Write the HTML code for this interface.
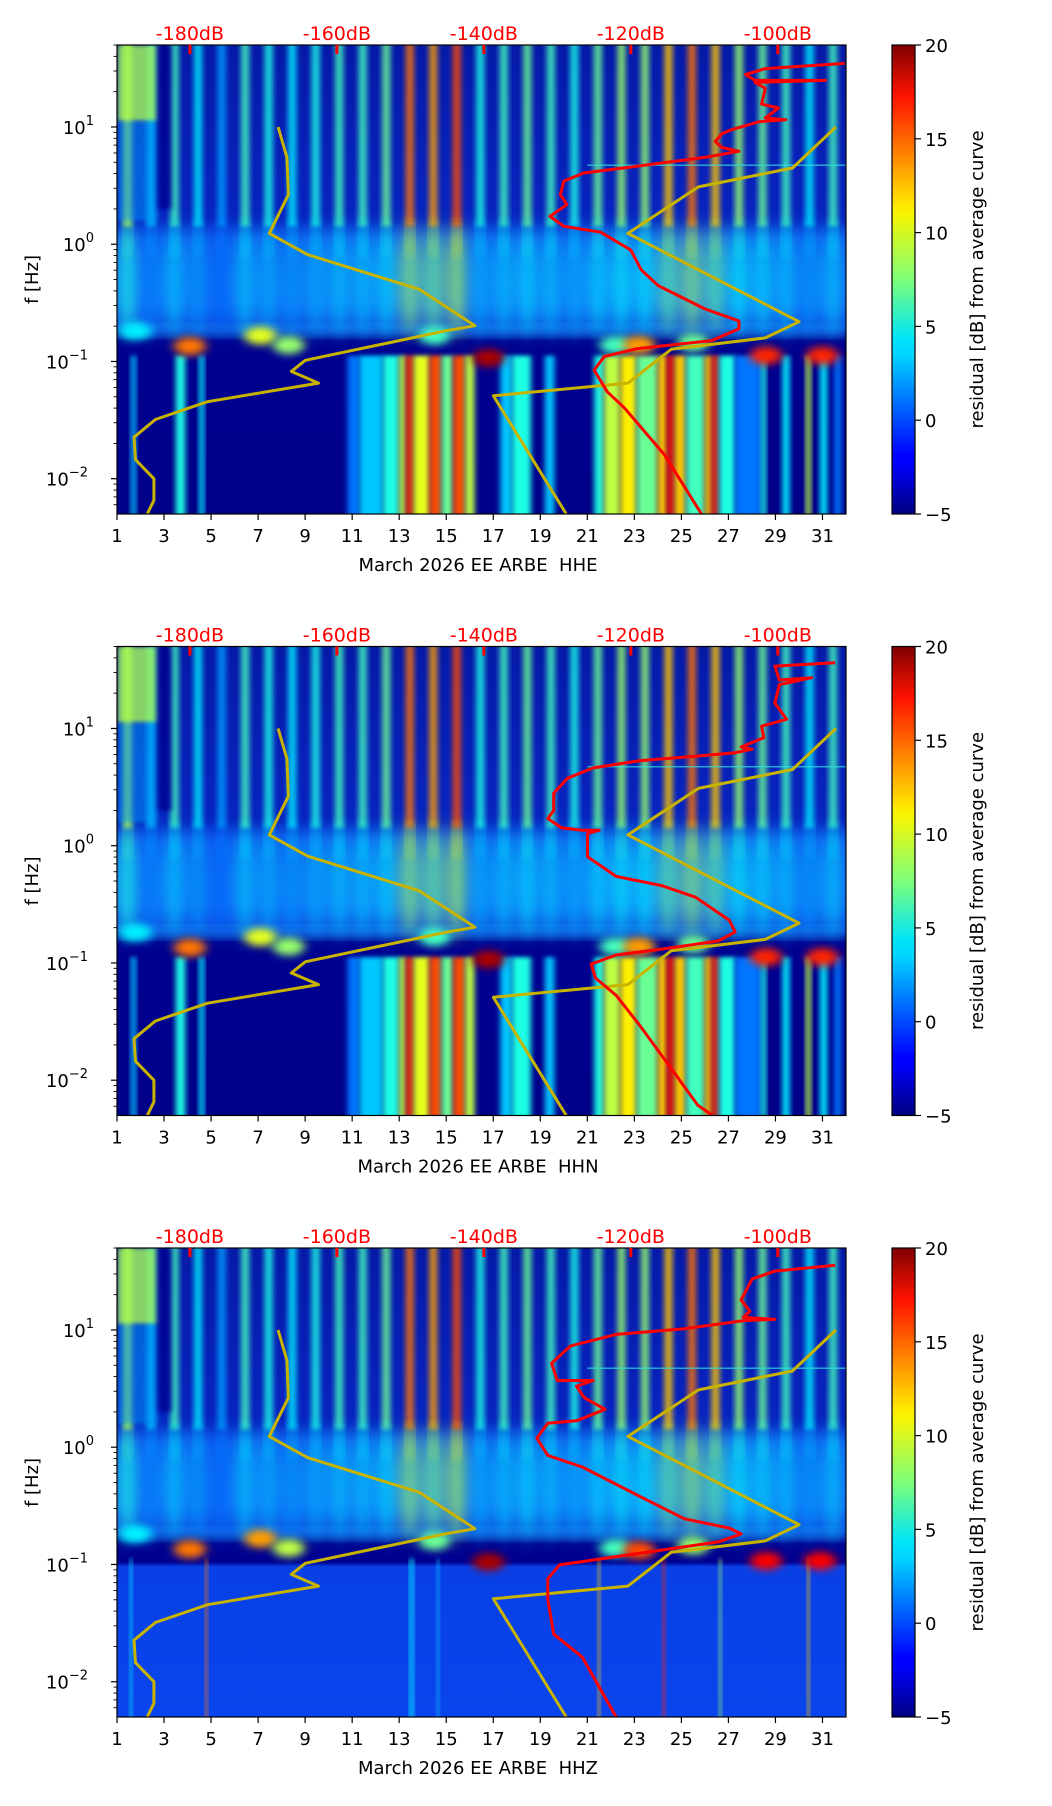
<!DOCTYPE html>
<html><head><meta charset="utf-8">
<style>
html,body{margin:0;padding:0;background:#fff;}
svg{display:block;font-family:"DejaVu Sans","Liberation Sans",sans-serif;}
text{white-space:pre;}
</style></head>
<body>
<svg id="fig" width="1052" height="1806" viewBox="0 0 1052 1806" xmlns="http://www.w3.org/2000/svg">
<defs>
<filter id="blurS" x="-50%" y="-10%" width="200%" height="120%"><feGaussianBlur stdDeviation="3 2"/></filter>
<filter id="blurT" x="-50%" y="-10%" width="200%" height="120%"><feGaussianBlur stdDeviation="6 6"/></filter>
<filter id="blurB" x="-50%" y="-50%" width="200%" height="200%"><feGaussianBlur stdDeviation="5 4"/></filter>
<filter id="blurP" x="-50%" y="-50%" width="200%" height="200%"><feGaussianBlur stdDeviation="7 10"/></filter>
<linearGradient id="jetGrad" x1="0" y1="1" x2="0" y2="0">
<stop offset="0" stop-color="#000080"/><stop offset="0.11" stop-color="#0000ff"/>
<stop offset="0.125" stop-color="#0000ff"/><stop offset="0.34" stop-color="#00d4ff"/>
<stop offset="0.375" stop-color="#00e5f7"/><stop offset="0.5" stop-color="#7dff7a"/>
<stop offset="0.64" stop-color="#f8f500"/><stop offset="0.66" stop-color="#ffe600"/>
<stop offset="0.89" stop-color="#ff1300"/><stop offset="1" stop-color="#800000"/>
</linearGradient>
</defs>
</svg>
<script>
// ---- data ----
const dbTicks = [-180, -160, -140, -120, -100];
const dayTicks = [1,3,5,7,9,11,13,15,17,19,21,23,25,27,29,31];
const decadeTicks = [1, 0, -1, -2];
const cbarTicks = [20, 15, 10, 5, 0, -5];
const panelNames = ["HHE", "HHN", "HHZ"];
// noise model curves (dB, log10 f)
const nlnmDb = [-168.0,-166.8,-166.6,-169.2,-164.0,-148.8,-141.2,-145.1,-164.3,-166.2,-162.5,-177.6,-184.7,-187.6,-187.4,-184.9,-184.9,-185.8];
const nlnmLogF = [1.00,0.741,0.422,0.092,-0.089,-0.385,-0.695,-0.738,-0.990,-1.085,-1.185,-1.343,-1.495,-1.646,-1.838,-2.00,-2.184,-2.30];
const nhnmDb = [-92.1,-98.0,-110.8,-120.4,-97.1,-101.7,-114.5,-120.4,-138.7,-128.8];
const nhnmLogF = [1.00,0.650,0.489,0.092,-0.661,-0.799,-0.896,-1.185,-1.293,-2.30];
// average curves per channel
const redDb1 = [-90.9,-101.7,-104.4,-103.1,-93.5,-103.1,-101.7,-102.2,-99.9,-101.7,-98.9,-102.6,-106.3,-107.6,-108.5,-107.6,-105.3,-109.9,-118.1,-126.4,-129.1,-129.6,-128.7,-131.0,-129.1,-124.1,-120.0,-118.6,-116.3,-109.9,-105.3,-105.3,-109.0,-119.1,-123.6,-125.0,-123.2,-120.9,-115.4,-110.4];
const redLogF1 = [1.542,1.498,1.447,1.397,1.397,1.380,1.330,1.195,1.162,1.077,1.061,1.044,0.977,0.943,0.876,0.825,0.792,0.741,0.674,0.607,0.539,0.422,0.338,0.237,0.153,0.102,-0.049,-0.217,-0.352,-0.553,-0.654,-0.721,-0.822,-0.89,-0.957,-1.074,-1.259,-1.394,-1.797,-2.30];
const redDb2 = [-92.2,-100.4,-99.8,-95.4,-99.8,-100.4,-98.8,-102.2,-101.9,-105.0,-103.5,-105.8,-111.2,-118.9,-125.1,-128.6,-130.5,-130.5,-131.3,-129.4,-126.6,-124.3,-125.9,-125.9,-122.0,-115.8,-111.2,-106.6,-105.8,-108.1,-115.8,-122.0,-125.4,-124.8,-122.0,-118.9,-114.3,-110.9,-108.9];
const redLogF2 = [1.561,1.532,1.413,1.433,1.374,1.216,1.078,1.019,0.921,0.842,0.822,0.793,0.763,0.724,0.664,0.576,0.448,0.300,0.231,0.152,0.132,0.132,0.103,-0.094,-0.262,-0.340,-0.439,-0.636,-0.735,-0.813,-0.882,-0.932,-1.010,-1.129,-1.276,-1.523,-1.917,-2.212,-2.30];
const redDb3 = [-92.2,-100.4,-103.5,-105.0,-103.8,-104.7,-100.4,-104.6,-112.7,-122.0,-128.2,-130.8,-130.0,-125.1,-127.4,-126.3,-123.5,-127.4,-131.3,-132.8,-131.3,-126.6,-118.9,-112.7,-106.6,-105.0,-108.1,-118.9,-129.7,-131.3,-131.3,-130.5,-126.6,-122.0];
const redLogF3 = [1.552,1.502,1.434,1.257,1.158,1.109,1.090,1.080,1.011,0.962,0.864,0.716,0.569,0.569,0.520,0.421,0.323,0.225,0.205,0.077,-0.070,-0.169,-0.415,-0.611,-0.690,-0.739,-0.808,-0.906,-1.004,-1.122,-1.299,-1.594,-1.791,-2.30];
// spectrogram residuals: upper daily stripe intensity (day 1..31)
const stripeVals = [9,3,6,4,2,6,5,4,5,6,6,7,14,13,15,5,6,7,6,5,7,8,8,12,14,12,8,7,6,4,6];
// microseism blobs [day, log10 f, residual]
const blobs12 = [[4.1,-0.87,14],[7.1,-0.78,10],[8.3,-0.86,8],[14.5,-0.78,6],[16.8,-0.97,19],[22.2,-0.86,6],[23.2,-0.86,13],[25.5,-0.84,7],[28.6,-0.95,16],[31.0,-0.95,16],[1.8,-0.74,4]];
const blobs3 = [[4.1,-0.87,14],[7.1,-0.78,13],[8.3,-0.86,9],[14.5,-0.80,7],[16.8,-0.98,19],[22.2,-0.86,6],[23.2,-0.88,15],[25.5,-0.84,8],[28.6,-0.97,17],[30.9,-0.97,17],[1.8,-0.74,4]];
// low-frequency bands [day0, day1, residual]
const bands12 = [[1.6,1.8,3],[3.5,3.9,5],[4.5,4.7,4],[10.8,11.3,1],[11.3,12.3,3],[12.3,13.0,5],[13.0,13.3,9],[13.3,13.6,16],[13.6,14.3,10],[14.3,14.8,15],[14.8,15.3,7],[15.3,15.8,15],[15.8,16.2,9],[17.3,17.8,3],[17.8,18.6,5],[19.2,19.6,3],[21.3,21.7,5],[21.7,22.4,9],[22.4,23.1,11],[23.1,24.0,7],[24.0,24.4,12],[24.4,24.7,17],[24.7,25.2,12],[25.2,26.0,6],[26.0,26.3,12],[26.3,26.6,16],[26.6,27.3,5],[27.3,28.4,1],[28.4,28.6,5],[29.3,29.6,4],[30.3,30.5,9],[30.9,31.2,4],[31.5,31.8,1]];
const bands3 = [[1.55,1.65,4],[4.75,4.85,14],[13.45,13.6,4],[14.6,14.7,3],[21.45,21.55,12],[24.2,24.3,16],[26.6,26.7,8],[30.35,30.45,12]];

// ---- layout ----
const NS = "http://www.w3.org/2000/svg";
const svg = document.getElementById("fig");
const defs = svg.querySelector("defs");
const L = 117, R = 846, H = 469, TOPS = [45, 646.5, 1248];
const LOGMAX = 1.699, LOGMIN = -2.301;
const X = d => L + (d - 1) * (R - L) / 31;
const XdB = db => X(4.1 + (db + 180) / 3.2);
function jet(v){
  const t = Math.max(0, Math.min(1, (v + 5) / 25));
  const c = x => Math.round(255 * Math.max(0, Math.min(1, x)));
  return `rgb(${c(1.5-Math.abs(4*t-3))},${c(1.5-Math.abs(4*t-2))},${c(1.5-Math.abs(4*t-1))})`;
}
function el(tag, attrs, parent){
  const e = document.createElementNS(NS, tag);
  for (const k in attrs) e.setAttribute(k, attrs[k]);
  (parent || svg).appendChild(e);
  return e;
}
const off = lf => ((LOGMAX - lf) / (LOGMAX - LOGMIN)).toFixed(4);

TOPS.forEach((top, pi) => {
  const Y = lf => top + (LOGMAX - lf) * H / (LOGMAX - LOGMIN);
  const bg = el("linearGradient", {id: "bg" + pi, x1: 0, y1: 0, x2: 0, y2: 1}, defs);
  const stops = [[1.7,"#061aa8"],[0.2,"#0824c0"],[0.05,"#1248e6"],[-0.5,"#1654f0"],[-0.72,"#0c3cd8"],[-0.8,"#000090"],[-2.3, pi === 2 ? "#000090" : "#000088"]];
  if (pi === 2) { stops.splice(6, 1, [-0.98,"#000090"],[-1.02,"#0840e6"],[-2.3,"#0a44ec"]); }
  stops.forEach(s => el("stop", {offset: off(s[0]), "stop-color": s[1]}, bg));

  const g = el("g", {});
  
  
  const cp = el("clipPath", {id: "clip" + pi}, g);
  el("rect", {x: L, y: top, width: R - L, height: H}, cp);
  const sg = el("g", {"clip-path": `url(#clip${pi})`}, g);
  
  
  el("rect", {x: L, y: top, width: R - L, height: H, fill: `url(#bg${pi})`}, sg);
  el("rect", {x: L, y: Y(-0.68), width: R - L, height: Y(-0.8) - Y(-0.68), fill: "#1f8cf0", opacity: 0.5, filter: "url(#blurT)"}, sg);
  stripeVals.forEach((v, i) => {
    const d = i + 1.45;
    const p = el("ellipse", {cx: X(d), cy: Y(-0.3), rx: 11, ry: 55, fill: jet(v * 0.55), opacity: 0.7, filter: "url(#blurP)"}, sg);
    
    
  });
  stripeVals.forEach((v, i) => {
    const d = i + 1.45;
    const s = el("rect", {x: X(d) - 4, y: top - 5, width: 8, height: Y(0.15) - top + 5, fill: jet(v), opacity: 0.85, filter: "url(#blurS)"}, sg);
    
    
    const s2 = el("rect", {x: X(d) - 3, y: Y(0.2), width: 6, height: Y(-0.1) - Y(0.2), fill: jet(v * 0.7), opacity: 0.6, filter: "url(#blurT)"}, sg);
    
    
  });
  el("rect", {x: X(1), y: top, width: X(2.7) - X(1), height: Y(1.05) - top, fill: jet(8.5), opacity: 0.8, filter: "url(#blurS)"}, sg);
  el("rect", {x: X(1), y: Y(1.05), width: X(2.7) - X(1), height: Y(0.2) - Y(1.05), fill: jet(2), opacity: 0.5, filter: "url(#blurS)"}, sg);
  el("rect", {x: X(2.75), y: top, width: X(3.3) - X(2.75), height: Y(0.3) - top, fill: "#000090", opacity: 0.8, filter: "url(#blurS)"}, sg);
  (pi === 2 ? bands3 : bands12).forEach(b => {
    const r = el("rect", {x: X(b[0]), y: Y(-0.95), width: X(b[1]) - X(b[0]), height: top + H - Y(-0.95) + 5, fill: jet(b[2]), filter: "url(#blurS)"}, sg);
    
    
  });
  (pi === 2 ? blobs3 : blobs12).forEach(b => {
    const r = el("ellipse", {cx: X(b[0]), cy: Y(b[1]), rx: 16, ry: 9, fill: jet(b[2]), filter: "url(#blurB)"}, sg);
    
    
  });
  el("rect", {x: X(21), y: Y(0.68), width: R - X(21), height: 1.5, fill: "#30e0e0", opacity: 0.7}, sg);
  const poly = (dbs, lfs, color, w, name) => {
    const pts = dbs.map((db, i) => `${XdB(db).toFixed(1)},${Y(lfs[i]).toFixed(1)}`).join(" ");
    const p = el("polyline", {points: pts, fill: "none", stroke: color, "stroke-width": w, "stroke-linejoin": "round"}, sg);
    
    
  };
  poly(nlnmDb, nlnmLogF, "#c8b400", 3, "low-noise-model-curve");
  poly(nhnmDb, nhnmLogF, "#c8b400", 3, "high-noise-model-curve");
  const rd = [redDb1, redDb2, redDb3][pi], rl = [redLogF1, redLogF2, redLogF3][pi];
  poly(rd, rl, "#ff0000", 3, "average-psd-curve");
  const fr = el("rect", {x: L, y: top, width: R - L, height: H, fill: "none", stroke: "#000", "stroke-width": 1.2}, g);
  
  
  dbTicks.forEach(db => {
    el("rect", {x: XdB(db) - 1.5, y: top, width: 3, height: 9, fill: "#ff0000"}, g);
    const t = el("text", {x: XdB(db), y: top - 5, "text-anchor": "middle", "font-size": 19, fill: "#ff0000"}, g);
    t.textContent = db + "dB";
    
    
  });
  dayTicks.forEach(d => {
    el("line", {x1: X(d), x2: X(d), y1: top + H, y2: top + H + 6, stroke: "#000", "stroke-width": 1.2}, g);
    const t = el("text", {x: X(d), y: top + H + 28, "text-anchor": "middle", "font-size": 18, fill: "#000"}, g);
    t.textContent = d;
    
    
  });
  const xl = el("text", {x: 478, y: top + H + 57, "text-anchor": "middle", "font-size": 18, fill: "#000"}, g);
  xl.textContent = "March 2026 EE ARBE \u00a0" + panelNames[pi];
  
  
  for (let e = -3; e <= 1; e++) {
    for (let m = 1; m <= 9; m++) {
      const lf = e + Math.log10(m);
      if (lf < LOGMIN || lf > LOGMAX) continue;
      const len = m === 1 ? 6 : 3.5;
      el("line", {x1: L - len, x2: L, y1: Y(lf), y2: Y(lf), stroke: "#000", "stroke-width": m === 1 ? 1.2 : 0.9}, g);
    }
  }
  decadeTicks.forEach(e => {
    const t = el("text", {x: e < 0 ? 88 : 94, y: Y(e) + 7, "text-anchor": "end", "font-size": 18, fill: "#000"}, g);
    t.textContent = "10";
    const s = el("tspan", {dy: -9, "font-size": 13}, t);
    s.textContent = e < 0 ? "\u2212" + (-e) : String(e);
    
    
  });
  const yl = el("text", {x: 0, y: 0, "text-anchor": "middle", "font-size": 18, fill: "#000", transform: `translate(38,${top + H / 2}) rotate(-90)`}, g);
  yl.textContent = "f [Hz]";
  
  
  const cb = el("rect", {x: 892, y: top, width: 23, height: H, fill: "url(#jetGrad)", stroke: "#000", "stroke-width": 1.2}, g);
  
  
  cbarTicks.forEach(v => {
    const yy = top + H - (v + 5) / 25 * H;
    el("line", {x1: 915, x2: 921, y1: yy, y2: yy, stroke: "#000", "stroke-width": 1.2}, g);
    const t = el("text", {x: 925, y: yy + 7, "font-size": 18, fill: "#000"}, g);
    t.textContent = v < 0 ? "\u2212" + (-v) : String(v);
    
    
  });
  const cl = el("text", {x: 0, y: 0, "text-anchor": "middle", "font-size": 18, fill: "#000", transform: `translate(983,${top + H / 2}) rotate(-90)`}, g);
  cl.textContent = "residual [dB] from average curve";
  
  
});
</script>
</body></html>
